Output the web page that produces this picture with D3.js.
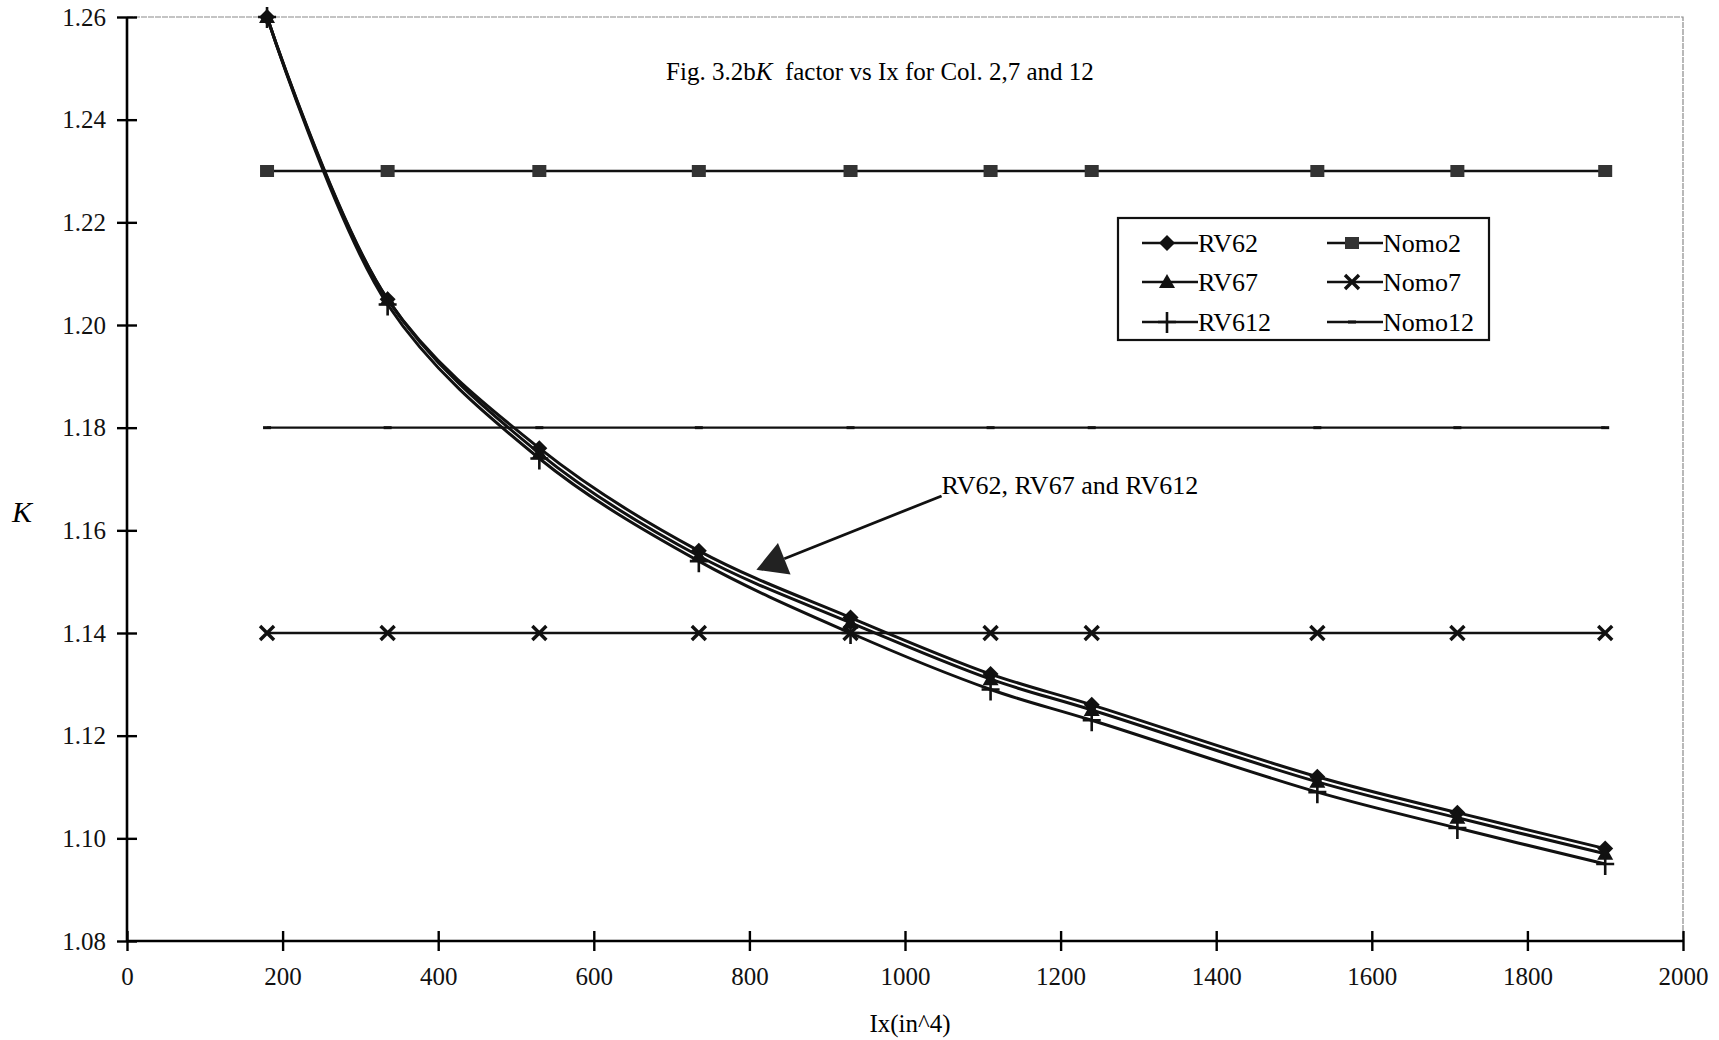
<!DOCTYPE html>
<html>
<head>
<meta charset="utf-8">
<script src="https://cdn.jsdelivr.net/npm/d3@7"></script>
<style>
  body { margin: 0; background: #fff; }
  svg { display: block; font-family: "Liberation Serif", "Times New Roman", serif; }
</style>
</head>
<body>
<div id="chart"></div>
<script>
// data
const ixValues = [180, 335, 530, 735, 930, 1110, 1240, 1530, 1710, 1900];
const rv62  = [1.260, 1.205, 1.176, 1.156, 1.143, 1.132, 1.126, 1.112, 1.105, 1.098];
const rv67  = [1.260, 1.205, 1.175, 1.155, 1.142, 1.131, 1.125, 1.111, 1.104, 1.097];
const rv612 = [1.260, 1.204, 1.174, 1.154, 1.140, 1.129, 1.123, 1.109, 1.102, 1.095];
const nomo2  = [1.23, 1.23, 1.23, 1.23, 1.23, 1.23, 1.23, 1.23, 1.23, 1.23];
const nomo7  = [1.14, 1.14, 1.14, 1.14, 1.14, 1.14, 1.14, 1.14, 1.14, 1.14];
const nomo12 = [1.18, 1.18, 1.18, 1.18, 1.18, 1.18, 1.18, 1.18, 1.18, 1.18];

const xTicks = [0, 200, 400, 600, 800, 1000, 1200, 1400, 1600, 1800, 2000];
const yTicks = [1.08, 1.10, 1.12, 1.14, 1.16, 1.18, 1.20, 1.22, 1.24, 1.26];

const series = [
  {name: "RV62",   values: rv62,   marker: "diamond",  smooth: true},
  {name: "RV67",   values: rv67,   marker: "triangle", smooth: true},
  {name: "RV612",  values: rv612,  marker: "plus",     smooth: true},
  {name: "Nomo2",  values: nomo2,  marker: "square",   smooth: false},
  {name: "Nomo7",  values: nomo7,  marker: "cross",    smooth: false},
  {name: "Nomo12", values: nomo12, marker: "dash",     smooth: false}
];

// annotation arrow, in data units
const arrowLabel = "RV62, RV67 and RV612";
const arrowFrom = [1047, 1.1667];
const arrowTip = [809, 1.1523];

const width = 1719, height = 1040;
const plot = {left: 127, right: 1683, top: 17, bottom: 941};

const svg = d3.select("#chart").append("svg")
    .attr("width", width)
    .attr("height", height);

const x = d3.scaleLinear().domain([0, 2000]).range([plot.left, plot.right]);
const y = d3.scaleLinear().domain([1.08, 1.26]).range([plot.bottom, plot.top]);

// scanned frame: faint top and right border
svg.append("path")
    .attr("d", `M${plot.left},${plot.top}H${plot.right}V${plot.bottom}`)
    .attr("fill", "none")
    .attr("stroke", "#8a8a8a")
    .attr("stroke-width", 1.2)
    .attr("stroke-dasharray", "6,1");

// axes with ticks crossing the line
const yAxis = svg.append("g")
    .attr("transform", `translate(${plot.left},0)`)
    .call(d3.axisLeft(y).tickValues(yTicks).tickFormat(d3.format(".2f")).tickSize(10).tickPadding(11));
yAxis.selectAll(".tick line").attr("x1", 10);

const xAxis = svg.append("g")
    .attr("transform", `translate(0,${plot.bottom})`)
    .call(d3.axisBottom(x).tickValues(xTicks).tickFormat(d3.format("d")).tickSize(10).tickPadding(16));
xAxis.selectAll(".tick line").attr("y1", -10);

[yAxis, xAxis].forEach(g => {
  g.select(".domain").attr("stroke-width", 2.6).attr("d", null);
  g.selectAll(".tick line").attr("stroke-width", 2.4);
  g.selectAll(".tick text")
      .attr("font-family", "Liberation Serif")
      .attr("font-size", 25)
      .attr("fill", "#111");
});
yAxis.select(".domain").attr("d", `M0,${plot.top}V${plot.bottom}`);
xAxis.select(".domain").attr("d", `M${plot.left},0H${plot.right}`);

// axis titles
svg.append("text")
    .attr("x", 910)
    .attr("y", 1032)
    .attr("text-anchor", "middle")
    .attr("font-size", 25)
    .text("Ix(in^4)");

svg.append("text")
    .attr("x", 12)
    .attr("y", 522)
    .attr("font-size", 30)
    .attr("font-style", "italic")
    .text("K");

// chart title
const title = svg.append("text")
    .attr("x", 880)
    .attr("y", 80)
    .attr("text-anchor", "middle")
    .attr("font-size", 25);
title.append("tspan").text("Fig.  3.2b");
title.append("tspan").attr("font-style", "italic").text("K");
title.append("tspan").text("\u00a0 factor vs Ix for Col. 2,7 and 12");

// markers
function drawMarker(g, type) {
  if (type === "diamond") {
    g.append("path").attr("d", "M0,-8L8,0L0,8L-8,0Z").attr("fill", "#111");
  } else if (type === "triangle") {
    g.append("path").attr("d", "M0,-8L8,6L-8,6Z").attr("fill", "#111");
  } else if (type === "plus") {
    g.append("path").attr("d", "M0,-10V11M-9,0H9")
        .attr("stroke", "#111").attr("stroke-width", 2.6);
  } else if (type === "square") {
    g.append("rect").attr("x", -7).attr("y", -6).attr("width", 14).attr("height", 12)
        .attr("fill", "#333");
  } else if (type === "cross") {
    g.append("path").attr("d", "M-7,-7L7,7M-7,7L7,-7")
        .attr("stroke", "#111").attr("stroke-width", 3.4);
  } else if (type === "dash") {
    g.append("path").attr("d", "M-4,0H4")
        .attr("stroke", "#111").attr("stroke-width", 3);
  }
}

const smoothLine = d3.line().x(d => x(d[0])).y(d => y(d[1])).curve(d3.curveCatmullRom);
const straightLine = d3.line().x(d => x(d[0])).y(d => y(d[1]));

// flat nomogram lines first, curves on top
const order = [3, 4, 5, 0, 1, 2];
order.forEach(i => {
  const s = series[i];
  const pts = ixValues.map((ix, j) => [ix, s.values[j]]);
  svg.append("path")
      .attr("d", (s.smooth ? smoothLine : straightLine)(pts))
      .attr("fill", "none")
      .attr("stroke", "#111")
      .attr("stroke-width", s.smooth ? 3 : 2.3);
  svg.append("g")
    .selectAll("g")
    .data(pts)
    .join("g")
      .attr("transform", d => `translate(${x(d[0])},${y(d[1])})`)
      .each(function() { drawMarker(d3.select(this), s.marker); });
});

// arrow annotation
const ax0 = x(arrowFrom[0]), ay0 = y(arrowFrom[1]);
const ax1 = x(arrowTip[0]), ay1 = y(arrowTip[1]);
const len = Math.hypot(ax1 - ax0, ay1 - ay0);
const ux = (ax1 - ax0) / len, uy = (ay1 - ay0) / len;
const headLen = 30, headHalf = 17;
const bx = ax1 - ux * headLen, by = ay1 - uy * headLen;

svg.append("line")
    .attr("x1", ax0).attr("y1", ay0)
    .attr("x2", bx).attr("y2", by)
    .attr("stroke", "#111")
    .attr("stroke-width", 2.8);
svg.append("path")
    .attr("d", `M${ax1},${ay1}L${bx - uy * headHalf},${by + ux * headHalf}L${bx + uy * headHalf},${by - ux * headHalf}Z`)
    .attr("fill", "#222");
svg.append("text")
    .attr("x", ax0)
    .attr("y", ay0 - 2)
    .attr("font-size", 26)
    .text(arrowLabel);

// legend
const legend = svg.append("g").attr("transform", "translate(1118,218)");
legend.append("rect")
    .attr("width", 371)
    .attr("height", 122)
    .attr("fill", "#fff")
    .attr("stroke", "#111")
    .attr("stroke-width", 2.2);

const rowY = [25, 64, 104];
const colX = [24, 209];
series.forEach((s, i) => {
  const col = Math.floor(i / 3), row = i % 3;
  const item = legend.append("g").attr("transform", `translate(${colX[col]},${rowY[row]})`);
  item.append("line")
      .attr("x1", 0).attr("x2", 56)
      .attr("stroke", "#111")
      .attr("stroke-width", 2.3);
  drawMarker(item.append("g").attr("transform", "translate(25,0)"), s.marker);
  item.append("text")
      .attr("x", 56)
      .attr("y", 9)
      .attr("font-size", 26)
      .text(s.name);
});
</script>
</body>
</html>
